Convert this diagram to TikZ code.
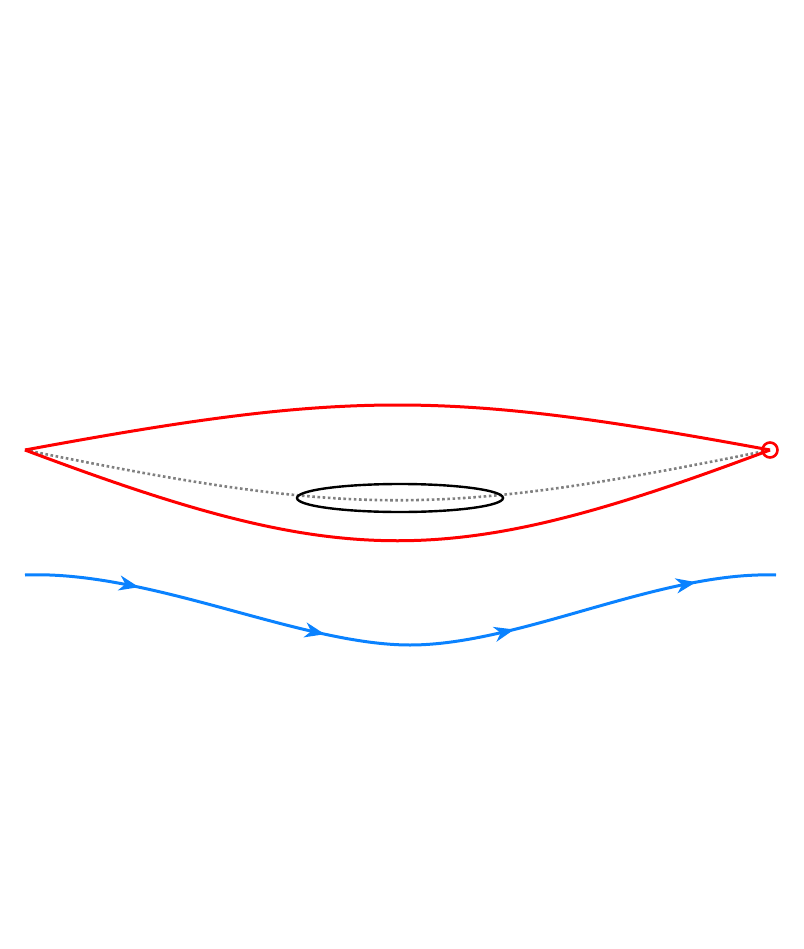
\documentclass[tikz,border=0pt]{standalone}
\usetikzlibrary{arrows.meta,decorations.markings}
\definecolor{redc}{RGB}{255,0,0}
\definecolor{bluec}{RGB}{10,130,255}
\definecolor{grayc}{RGB}{128,128,128}
\tikzset{
  redline/.style={draw=redc,line width=3pt},
  dotline/.style={draw=grayc,line width=2.6pt,dash pattern=on 2.6pt off 2.6pt},
  ellline/.style={draw=black,line width=2.4pt},
  blueline/.style={draw=bluec,line width=3pt,
    postaction={decorate},
    decoration={markings,
      mark=at position 0.15 with {\arrow{Stealth[length=20pt,width=15pt,inset=6pt]}},
      mark=at position 0.40 with {\arrow{Stealth[length=20pt,width=15pt,inset=6pt]}},
      mark=at position 0.65 with {\arrow{Stealth[length=20pt,width=15pt,inset=6pt]}},
      mark=at position 0.895 with {\arrow{Stealth[length=20pt,width=15pt,inset=6pt]}}}}
}
\begin{document}
\begin{tikzpicture}[x=1pt,y=-1pt]
\useasboundingbox (0,0) rectangle (803,949);
\coordinate (L) at (25,450);
\coordinate (R) at (770,450);
\coordinate (B0) at (25,575);
\coordinate (Bm) at (410,645);
\coordinate (B1) at (776,575);
% dotted gray curve
\draw[dotline] (L) .. controls (355,517) and (440,517) .. (R);
% ellipse
\draw[ellline] (400,498) ellipse [x radius=103, y radius=14];
% red curves
\draw[redline] (L) .. controls (350,390) and (445,390) .. (R);
\draw[redline] (L) .. controls (347,571) and (448,571) .. (R);
\draw[redline,line width=2.6pt] (R) circle [radius=7.5];
% blue curve
\draw[blueline] (B0) .. controls (150,570) and (300,645) .. (Bm)
  .. controls (520,645) and (660,571) .. (B1);
\end{tikzpicture}
\end{document}
